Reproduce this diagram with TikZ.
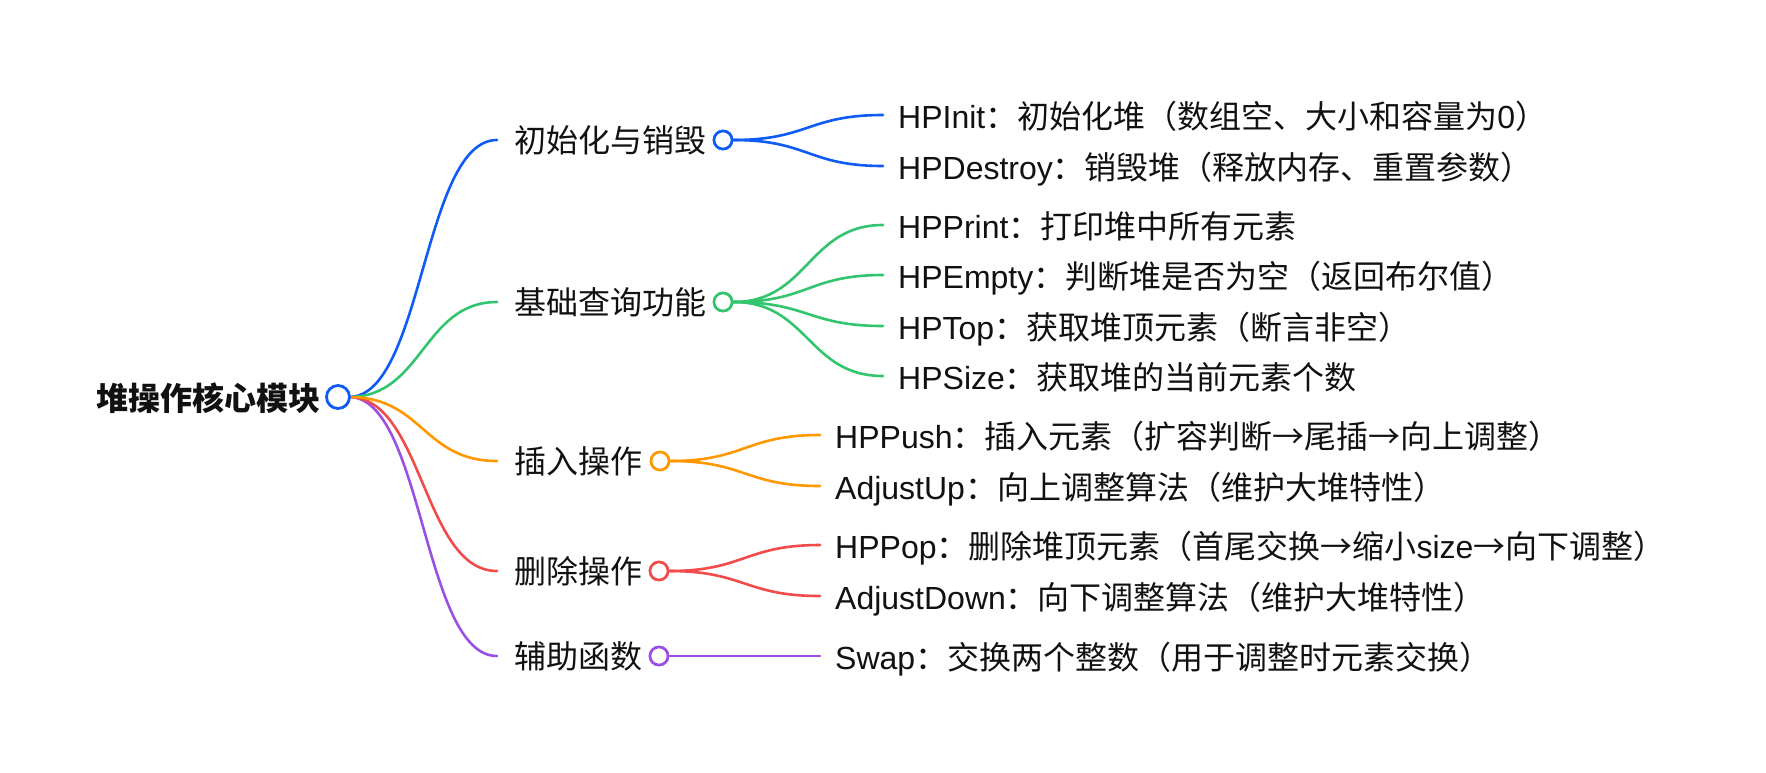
\documentclass[tikz,border=0pt]{standalone}
\usepackage{fontspec}
\setmainfont{Noto Sans CJK SC}
\newfontfamily\latfont{Liberation Sans}
\newcommand\LatTxt[1]{{\latfont #1}}
\definecolor{ink}{HTML}{111111}
\definecolor{cblue}{HTML}{0F5BF5}
\definecolor{cgreen}{HTML}{33C46E}
\definecolor{corange}{HTML}{FF9800}
\definecolor{cred}{HTML}{F24B4B}
\definecolor{cpurple}{HTML}{9A50E2}
\tikzset{
  txt/.style={inner sep=0pt, anchor=base west, text=ink, font=\fontsize{32}{38}\selectfont},
  roottxt/.style={inner sep=0pt, anchor=base east, text=ink, font=\fontsize{32}{38}\selectfont\bfseries},
  dot/.style={circle, draw=#1, fill=white, line width=2.6pt, minimum size=18pt, inner sep=0pt},
  rootdot/.style={circle, draw=#1, fill=white, line width=2.8pt, minimum size=23pt, inner sep=0pt},
  link/.style={draw=#1, line width=2.6pt, line cap=round},
}
\begin{document}
\begin{tikzpicture}[x=1pt,y=-1pt]
\useasboundingbox (0,0) rectangle (1766,772);
% root
\node[roottxt] (root) at (321,410) {堆操作核心模块};
% level-1 end points of root links
\coordinate (ea) at (497,140);
\coordinate (eb) at (497,302);
\coordinate (ec) at (497,461);
\coordinate (ed) at (497,571);
\coordinate (ee) at (497,656);
% level-1 texts
\node[txt] (ta) at (514,152) {初始化与销毁};
\node[txt] (tb) at (514,314) {基础查询功能};
\node[txt] (tc) at (514,473) {插入操作};
\node[txt] (td) at (514,583) {删除操作};
\node[txt] (te) at (514,668) {辅助函数};
% child line end points
\coordinate (a1) at (883,115);
\coordinate (a2) at (883,166);
\coordinate (b1) at (883,225);
\coordinate (b2) at (883,275);
\coordinate (b3) at (883,326);
\coordinate (b4) at (883,376);
\coordinate (c1) at (820,435);
\coordinate (c2) at (820,486);
\coordinate (d1) at (820,545);
\coordinate (d2) at (820,596);
\coordinate (e1) at (820,656);
% links root -> level 1
\draw[link=cblue] (349,397) .. controls +(74,0) and +(-74,0) .. (ea);
\draw[link=cgreen] (349,397) .. controls +(74,0) and +(-74,0) .. (eb);
\draw[link=cpurple] (349,397) .. controls +(74,0) and +(-74,0) .. (ee);
\draw[link=cred] (349,397) .. controls +(74,0) and +(-74,0) .. (ed);
\draw[link=corange] (349,397) .. controls +(74,0) and +(-74,0) .. (ec);
% level-1 circles
\node[dot=cblue] (ca) at (723,140) {};
\node[dot=cgreen] (cb) at (723,302) {};
\node[dot=corange] (cc) at (660,461) {};
\node[dot=cred] (cd) at (659,571) {};
\node[dot=cpurple] (ce) at (659,656) {};
% links level 1 -> children
\draw[link=cblue] (ca.east) .. controls +(75,0) and +(-75,0) .. (a1);
\draw[link=cblue] (ca.east) .. controls +(75,0) and +(-75,0) .. (a2);
\draw[link=cgreen] (cb.east) .. controls +(75,0) and +(-75,0) .. (b1);
\draw[link=cgreen] (cb.east) .. controls +(75,0) and +(-75,0) .. (b2);
\draw[link=cgreen] (cb.east) .. controls +(75,0) and +(-75,0) .. (b3);
\draw[link=cgreen] (cb.east) .. controls +(75,0) and +(-75,0) .. (b4);
\draw[link=corange] (cc.east) .. controls +(75,0) and +(-75,0) .. (c1);
\draw[link=corange] (cc.east) .. controls +(75,0) and +(-75,0) .. (c2);
\draw[link=cred] (cd.east) .. controls +(75,0) and +(-75,0) .. (d1);
\draw[link=cred] (cd.east) .. controls +(75,0) and +(-75,0) .. (d2);
\draw[link=cpurple] (ce.east) -- (e1);
% redraw circles on top
\node[dot=cblue] at (ca) {};
\node[dot=cgreen] at (cb) {};
\node[dot=corange] at (cc) {};
\node[dot=cred] at (cd) {};
\node[dot=cpurple] at (ce) {};
\node[rootdot=cblue] (rc) at (338,397) {};
% children texts
\node[txt] (na1) at (898,128) {\LatTxt{HPInit}：初始化堆（数组空、大小和容量为\LatTxt{0}）};
\node[txt] (na2) at (898,179) {\LatTxt{HPDestroy}：销毁堆（释放内存、重置参数）};
\node[txt] (nb1) at (898,238) {\LatTxt{HPPrint}：打印堆中所有元素};
\node[txt] (nb2) at (898,288) {\LatTxt{HPEmpty}：判断堆是否为空（返回布尔值）};
\node[txt] (nb3) at (898,339) {\LatTxt{HPTop}：获取堆顶元素（断言非空）};
\node[txt] (nb4) at (898,389) {\LatTxt{HPSize}：获取堆的当前元素个数};
\node[txt] (nc1) at (835,448) {\LatTxt{HPPush}：插入元素（扩容判断→尾插→向上调整）};
\node[txt] (nc2) at (835,499) {\LatTxt{AdjustUp}：向上调整算法（维护大堆特性）};
\node[txt] (nd1) at (835,558) {\LatTxt{HPPop}：删除堆顶元素（首尾交换→缩小\LatTxt{size}→向下调整）};
\node[txt] (nd2) at (835,609) {\LatTxt{AdjustDown}：向下调整算法（维护大堆特性）};
\node[txt] (ne1) at (835,669) {\LatTxt{Swap}：交换两个整数（用于调整时元素交换）};
\end{tikzpicture}
\end{document}
